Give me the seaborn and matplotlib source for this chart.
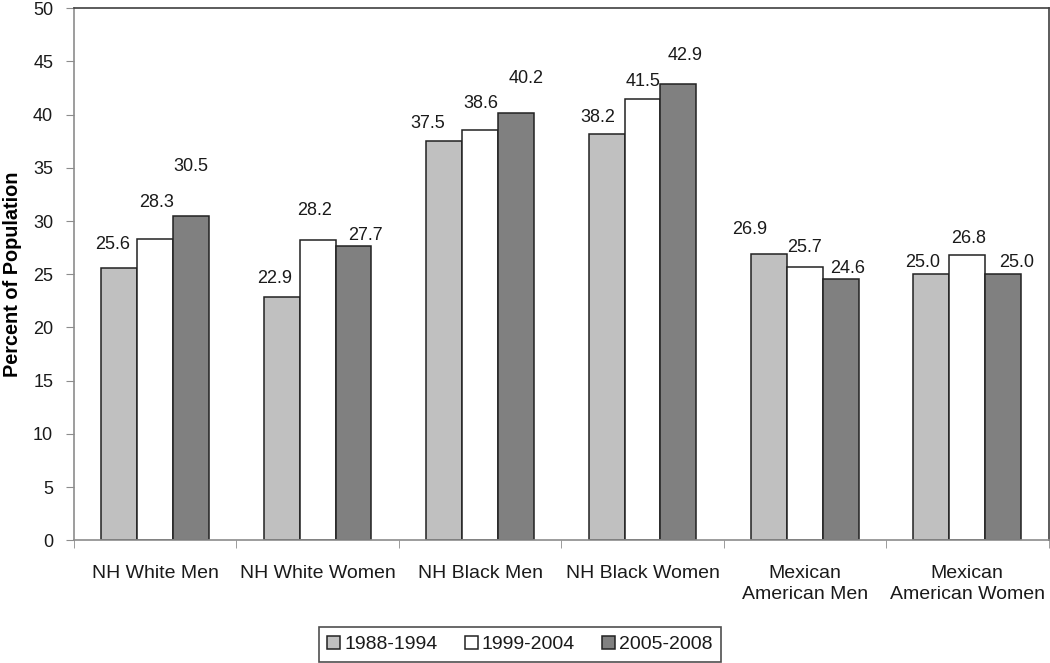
import matplotlib
matplotlib.use("Agg")
import matplotlib.pyplot as plt
import numpy as np
import pandas as pd
import seaborn as sns

groups = ["NH White Men", "NH White Women", "NH Black Men", "NH Black Women",
          "Mexican\nAmerican Men", "Mexican\nAmerican Women"]
periods = ["1988-1994", "1999-2004", "2005-2008"]
v_1988 = [25.6, 22.9, 37.5, 38.2, 26.9, 25.0]
v_1999 = [28.3, 28.2, 38.6, 41.5, 25.7, 26.8]
v_2005 = [30.5, 27.7, 40.2, 42.9, 24.6, 25.0]
colors = ["#c0c0c0", "#ffffff", "#808080"]

# label nudges in pixels (dx, dy) relative to bar top centre, per group / period
label_offsets = [
    [(-7, 23), (1, 37), (0, 49)],
    [(-7, 18), (-3, 30), (12, 10)],
    [(-16, 18), (1, 26), (10, 34)],
    [(-9, 16), (1, 17), (7, 28)],
    [(-19, 25), (0, 19), (7, 10)],
    [(-9, 12), (1, 17), (13, 12)],
]

rows = []
for p, vals in zip(periods, [v_1988, v_1999, v_2005]):
    for g, v in zip(groups, vals):
        rows.append({"group": g, "period": p, "value": v})
df = pd.DataFrame(rows)

sns.set_style("white")
plt.rcParams["font.family"] = ["Liberation Sans", "DejaVu Sans"]
text_col = "#1a1a1a"

fig = plt.figure(figsize=(10.5, 6.63), dpi=100)
ax = fig.add_axes([74 / 1050, 1 - 540.3 / 663, 974.5 / 1050, 532 / 663])

sns.barplot(data=df, x="group", y="value", hue="period", order=groups,
            hue_order=periods, palette=colors, width=0.663, gap=0,
            edgecolor="#222222", linewidth=1.1, ax=ax)

ax.set_xlim(-0.5, 5.5)
ax.set_ylim(0, 50)
ax.set_yticks(np.arange(0, 51, 5))
ax.set_xticks(np.arange(-0.5, 6, 1), minor=True)
ax.set_xlabel("")
ax.set_ylabel("Percent of Population", fontsize=14.3, fontweight="bold",
              color="black")
ax.yaxis.set_label_coords(-52 / 974.5, 0.5)

ax.tick_params(axis="y", which="major", length=6, color="#8c8c8c",
               direction="out", left=True, pad=9, labelsize=13, labelcolor=text_col)
ax.tick_params(axis="x", which="major", length=0, pad=18, labelsize=14,
               labelcolor=text_col)
ax.tick_params(axis="x", which="minor", length=6, color="#8c8c8c",
               direction="out", bottom=True)
for lbl in ax.get_xticklabels():
    lbl.set_linespacing(1.25)

for side in ["left", "bottom"]:
    ax.spines[side].set_color("#8c8c8c")
    ax.spines[side].set_linewidth(1.2)
for side in ["top", "right"]:
    ax.spines[side].set_color("#404040")
    ax.spines[side].set_linewidth(1.2)

for j, cont in enumerate(ax.containers):
    for i, bar in enumerate(cont):
        h = bar.get_height()
        dx, dy = label_offsets[i][j]
        ax.annotate(f"{h:.1f}", (bar.get_x() + bar.get_width() / 2, h),
                    xytext=(dx, dy), textcoords="offset pixels",
                    ha="center", va="center", fontsize=13, color=text_col)

handles, labels = ax.get_legend_handles_labels()
ax.get_legend().remove()
leg = fig.legend(handles, labels, loc="center",
                 bbox_to_anchor=(520 / 1050, 1 - 644.5 / 663), ncol=3,
                 frameon=True, fancybox=False, edgecolor="#222222",
                 fontsize=14, handlelength=0.67, handleheight=0.67,
                 handletextpad=0.2, columnspacing=1.4, borderpad=0.45)
leg.get_frame().set_linewidth(1.2)
for t in leg.get_texts():
    t.set_color(text_col)

fig.savefig("out.png", dpi=100)
